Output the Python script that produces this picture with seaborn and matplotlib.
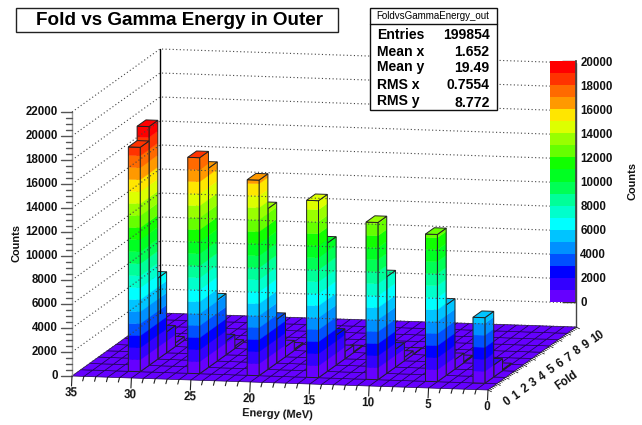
import numpy as np
import matplotlib
matplotlib.use("Agg")
import matplotlib.pyplot as plt
import seaborn as sns
from matplotlib.colors import ListedColormap
from matplotlib.patches import Rectangle

# counts per energy bin (lower edge, MeV) for each fold bin
energy_bins = [30, 25, 20, 15, 10, 5, 1]
fold_1 = [18700, 18000, 16300, 14750, 13100, 12270, 5470]
fold_2 = [19900, 16600, 13400, 10700, 8060, 5870, 1000]
fold_3 = [6750, 5100, 3650, 2500, 1500, 800, 100]
fold_4 = [1750, 1170, 840, 600, 300, 100, 0]
fold_5 = [300, 200, 120, 70, 30, 0, 0]
fold_rows = {1: fold_1, 2: fold_2, 3: fold_3, 4: fold_4, 5: fold_5}

band_colors = ["#6600ff", "#3300ff", "#0000ff", "#0050ff", "#0090ff",
               "#00c4ff", "#00ffff", "#00ffcc", "#00ff99", "#00ff55",
               "#00ff22", "#11ff00", "#66ff00", "#99ff00", "#ddff00",
               "#ffe600", "#ff9900", "#ff6a00", "#ff3300", "#ff0000"]
z_ticks = list(range(0, 22001, 2000))
bar_ticks = list(range(0, 20001, 2000))
energy_ticks = [35, 30, 25, 20, 15, 10, 5, 0]
fold_ticks = list(range(0, 11))
stat_names = ["Entries", "Mean x", "Mean y", "RMS x", "RMS y"]
stat_values = ["199854", "1.652", "19.49", "0.7554", "8.772"]

W, H = 642, 425
E_MAX, FOLD_MAX, Z_MAX = 35, 10, 22000
BAND = 1000


def project(e, f, z=0):
    # parallel projection of the lego box, picture coordinates
    x = 72 + (E_MAX - e) * (416 / 35) + f * 8.8
    y = 376 + (E_MAX - e) * (14 / 35) - f * 6.3 - z * (264 / 22000)
    return x, y


def band_color(v):
    return band_colors[min(int(v // BAND), len(band_colors) - 1)]


def wall_face(ax, a, b, height):
    # a column side, cut in colour bands
    for low in np.arange(0, height, BAND):
        high = min(low + BAND, height)
        pts = [project(*a, low), project(*b, low), project(*b, high), project(*a, high)]
        c = band_color(low)
        ax.fill(*zip(*pts), facecolor=c, edgecolor=c, lw=0.3)
    pts = [project(*a, 0), project(*b, 0), project(*b, height), project(*a, height)]
    ax.fill(*zip(*pts), facecolor="none", edgecolor="#222222", lw=0.7)


def column(ax, e, f, height):
    wall_face(ax, (e, f), (e, f + 1), height)  # side towards low energy
    wall_face(ax, (e + 1, f), (e, f), height)  # front
    top = [project(e + 1, f, height), project(e, f, height),
           project(e, f + 1, height), project(e + 1, f + 1, height)]
    ax.fill(*zip(*top), facecolor=band_color(height), edgecolor="#222222", lw=0.7)


sns.set_theme(style="white", font="Liberation Sans")
plt.rcParams["font.weight"] = "bold"

fig = plt.figure(figsize=(W / 100, H / 100), dpi=100)
ax = fig.add_axes([0, 0, 1, 1])
ax.set_xlim(0, W)
ax.set_ylim(H, 0)
ax.axis("off")

dots = dict(color="#444444", lw=0.8, ls=(0, (1, 2.2)))

# walls
for z in z_ticks:
    left = [project(E_MAX, 0, z), project(E_MAX, FOLD_MAX, z), project(0, FOLD_MAX, z)]
    ax.plot(*zip(*left), **dots)
ax.plot(*zip(project(E_MAX, FOLD_MAX, 0), project(E_MAX, FOLD_MAX, Z_MAX)), color="black", lw=1.0)
ax.plot(*zip(project(0, FOLD_MAX, 0), project(0, FOLD_MAX, Z_MAX)), color="#444444", lw=1.0)
ax.plot(*zip(project(E_MAX, 0, 0), project(E_MAX, 0, Z_MAX)), color="#999999", lw=1.0)

# floor cells
for f in range(FOLD_MAX):
    for e in range(E_MAX):
        cell = [project(e + 1, f), project(e, f), project(e, f + 1), project(e + 1, f + 1)]
        ax.fill(*zip(*cell), facecolor=band_colors[0], edgecolor="#1e0058", lw=0.5)

# columns, back to front
for f in sorted(fold_rows, reverse=True):
    pairs = sorted(zip(energy_bins, fold_rows[f]), reverse=True)
    for e, v in pairs:
        if v > 0:
            column(ax, e, f, v)

# z axis ticks
for z in np.arange(0, Z_MAX + 1, 500):
    x, y = project(E_MAX, 0, z)
    major = z % 2000 == 0
    ax.plot([x - (11 if major else 6), x], [y, y], color="#555555", lw=1.0)
    if major:
        ax.text(x - 14, y, str(int(z)), ha="right", va="center", fontsize=8.3, color="#111111")

# energy axis ticks
for e in range(0, E_MAX + 1):
    x, y = project(e, 0)
    major = e % 5 == 0
    dx, dy = (-0.5, 10) if major else (-1.2, 4.5)
    ax.plot([x, x + dx], [y, y + dy], color="#222222", lw=0.8)
for e in energy_ticks:
    x, y = project(e, 0)
    ax.text(x - 1, y + 17, str(e), ha="center", va="center", rotation=-2, fontsize=8.3, color="#111111")

# fold axis ticks
for f in np.arange(0, FOLD_MAX + 0.01, 0.2):
    x, y = project(0, f)
    ln = 3.5 if abs(f - round(f)) < 0.01 else 2
    ax.plot([x, x + ln], [y, y + ln * 0.5], color="#222222", lw=0.6)
for f in fold_ticks:
    x, y = project(0, f)
    ax.text(x + 16.9, y + 13.4, str(f), ha="left", va="center", rotation=35,
            rotation_mode="anchor", fontsize=8.3, color="#111111")

ax.text(277.7, 414.3, "Energy (MeV)", ha="center", va="center", rotation=-2, fontsize=7.9, color="#111111")
ax.text(566.7, 380.7, "Fold", ha="center", va="center", rotation=35, fontsize=8.3, color="#111111")
ax.text(17, 243, "Counts", ha="center", va="center", rotation=90, fontsize=7.9, color="#111111")
ax.text(632, 181, "Counts", ha="center", va="center", rotation=90, fontsize=7.9, color="#111111")

# title box
ax.add_patch(Rectangle((15.5, 8), 322, 24, facecolor="white", edgecolor="#222222", lw=1.0, zorder=50))
ax.text(179, 20, "Fold vs Gamma Energy in Outer", ha="center", va="center", fontsize=13.6, color="black", zorder=51)

# stats box
ax.add_patch(Rectangle((370, 8), 126.5, 102, facecolor="white", edgecolor="#111111", lw=1.0, zorder=50))
ax.plot([370, 496.5], [24, 24], color="#111111", lw=1.0, zorder=51)
ax.text(432.7, 16, "FoldvsGammaEnergy_out", ha="center", va="center", fontsize=7,
        fontweight="normal", color="black", zorder=51)
name_rows = [34.7, 52, 66.7, 85, 101]
value_rows = [34.7, 52, 68, 85, 103]
for n, v, yn, yv in zip(stat_names, stat_values, name_rows, value_rows):
    ax.text(376.7, yn, n, ha="left", va="center", fontsize=10.1, color="black", zorder=51)
    ax.text(489.5, yv, v, ha="right", va="center", fontsize=10.1, color="black", zorder=51)

# palette strip
cax = fig.add_axes([549.5 / W, 1 - 302 / H, 26.5 / W, 241 / H])
levels = np.arange(len(band_colors))[::-1].reshape(-1, 1)
sns.heatmap(levels, ax=cax, cmap=ListedColormap(band_colors), cbar=False,
            xticklabels=False, yticklabels=False, vmin=0, vmax=len(band_colors) - 1)
cax.yaxis.tick_right()
cax.set_yticks([(20000 - v) / BAND for v in bar_ticks])
cax.set_yticklabels([str(v) for v in bar_ticks], rotation=0, fontsize=8.3, color="#111111")
cax.tick_params(axis="y", direction="in", length=10, width=1.0, color="#333333", right=True, left=False, pad=3)
for side in ["top", "left", "bottom"]:
    cax.spines[side].set_visible(False)
cax.spines["right"].set_visible(True)
cax.spines["right"].set_color("#444444")

fig.savefig("out.png", dpi=100)
